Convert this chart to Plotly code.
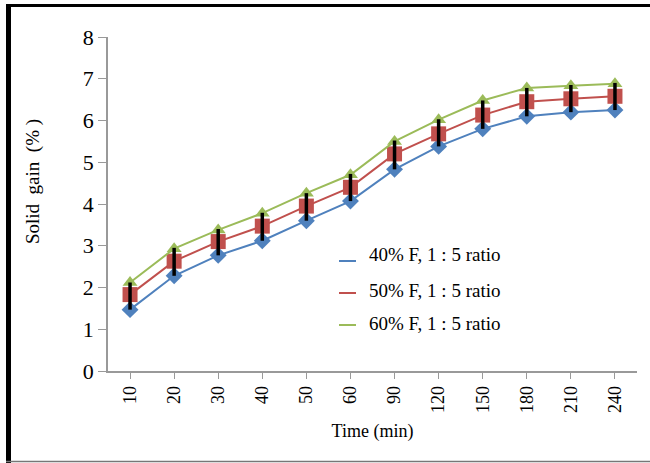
import plotly.graph_objects as go

time_labels = ["10", "20", "30", "40", "50", "60", "90", "120", "150", "180", "210", "240"]
sg_40 = [1.47, 2.28, 2.77, 3.12, 3.60, 4.07, 4.83, 5.38, 5.80, 6.10, 6.20, 6.25]
sg_50 = [1.83, 2.63, 3.10, 3.47, 3.95, 4.40, 5.20, 5.68, 6.13, 6.45, 6.52, 6.58]
sg_60 = [2.12, 2.93, 3.38, 3.78, 4.26, 4.70, 5.50, 6.02, 6.48, 6.78, 6.83, 6.88]
err_plus = [0.29, 0.32, 0.30, 0.32, 0.31, 0.32, 0.32, 0.35, 0.35, 0.33, 0.33, 0.32]
err_minus = [0.36, 0.35, 0.33, 0.35, 0.35, 0.33, 0.37, 0.30, 0.33, 0.35, 0.32, 0.33]
series_names = ["40% F, 1 : 5 ratio", "50% F, 1 : 5 ratio", "60% F, 1 : 5 ratio"]

BLUE = "#4F81BD"
RED = "#C0504D"
GREEN = "#9BBB59"
FONT = "Liberation Serif"

fig = go.Figure()
fig.add_trace(go.Scatter(x=time_labels, y=sg_40, mode="lines+markers", showlegend=False,
                         line=dict(color=BLUE, width=2),
                         marker=dict(symbol="diamond", size=13, color=BLUE)))
fig.add_trace(go.Scatter(x=time_labels, y=sg_50, mode="lines+markers", showlegend=False,
                         line=dict(color=RED, width=2),
                         marker=dict(symbol="square", size=15, color=RED)))
fig.add_trace(go.Scatter(x=time_labels, y=sg_60, mode="lines+markers", showlegend=False,
                         line=dict(color=GREEN, width=2),
                         marker=dict(symbol="triangle-up", size=13, color=GREEN)))
fig.add_trace(go.Scatter(x=time_labels, y=sg_50, mode="markers", showlegend=False,
                         marker=dict(size=1, color="rgba(0,0,0,0)"),
                         error_y=dict(type="data", symmetric=False, array=err_plus,
                                      arrayminus=err_minus, color="black", thickness=3.5, width=0)))

# pixel -> paper helpers (plot area: x 108..637, y 37..371)
def px_x(p):
    return (p - 108) / 529

def px_y(p):
    return (371 - p) / 334

shapes = [
    dict(type="rect", xref="paper", yref="paper", x0=px_x(6), x1=px_x(11), y0=px_y(463), y1=px_y(4),
         fillcolor="black", line=dict(width=0)),
    dict(type="rect", xref="paper", yref="paper", x0=px_x(6), x1=px_x(650), y0=px_y(7), y1=px_y(4),
         fillcolor="black", line=dict(width=0)),
    dict(type="line", xref="paper", yref="paper", x0=px_x(6), x1=px_x(650), y0=px_y(461.5), y1=px_y(461.5),
         line=dict(color="#777777", width=1.5)),
]

annotations = []
legend_text_y = [255, 290, 323]
legend_line_y = [261, 293, 325]
for name, col, ty, ly in zip(series_names, [BLUE, RED, GREEN], legend_text_y, legend_line_y):
    shapes.append(dict(type="line", xref="paper", yref="paper", x0=px_x(339), x1=px_x(356),
                       y0=px_y(ly), y1=px_y(ly), line=dict(color=col, width=2)))
    annotations.append(dict(text=name, xref="paper", yref="paper", x=px_x(367), y=px_y(ty),
                            xanchor="left", yanchor="middle", showarrow=False,
                            font=dict(family=FONT, size=19, color="black")))

annotations.append(dict(text="Solid  gain  (% )", xref="paper", yref="paper", x=px_x(33), y=px_y(182),
                        xanchor="center", yanchor="middle", textangle=-90, showarrow=False,
                        font=dict(family=FONT, size=19, color="black")))

fig.update_layout(
    width=650, height=463,
    margin=dict(l=108, r=13, t=37, b=92),
    paper_bgcolor="white", plot_bgcolor="white",
    font=dict(family=FONT, color="black"),
    shapes=shapes,
    annotations=annotations,
    showlegend=False,
    xaxis=dict(type="category", range=[-0.5, 11.5], showgrid=False, showline=True,
               linecolor="#999999", linewidth=1.5,
               ticks="outside", ticklen=6, tickcolor="#999999", tickangle=-90,
               tickfont=dict(family=FONT, size=18, color="black"),
               title=dict(text="Time (min)", font=dict(family=FONT, size=18, color="black"), standoff=12)),
    yaxis=dict(range=[0, 8], dtick=1, showgrid=False, showline=True, linecolor="#999999", linewidth=1.5,
               ticks="outside", ticklen=8, tickcolor="#999999", zeroline=False,
               tickfont=dict(family=FONT, size=22, color="black")),
)

fig.write_html("out.html")
